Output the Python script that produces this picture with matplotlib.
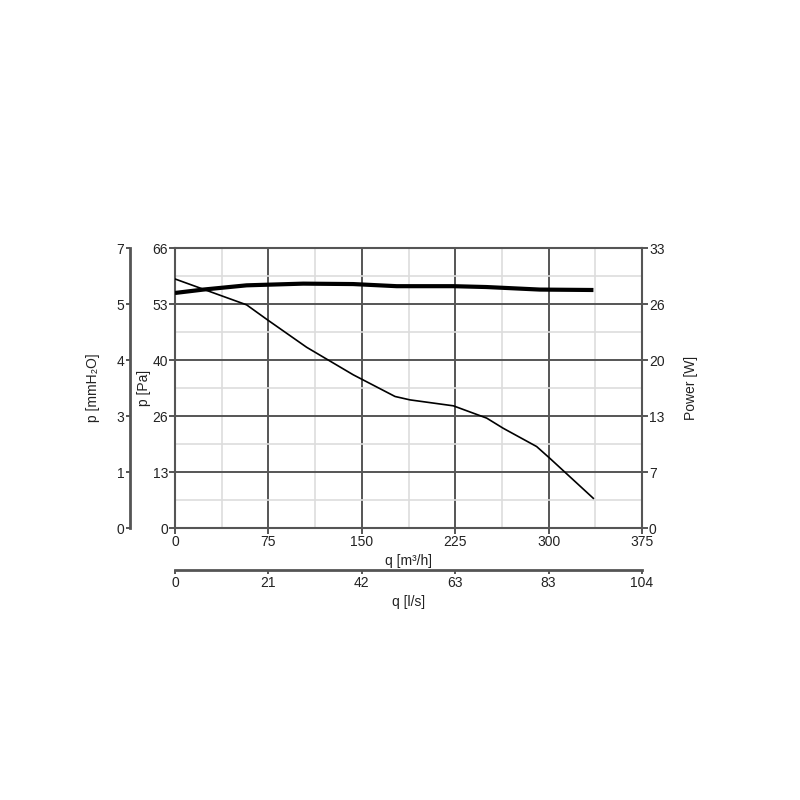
import matplotlib
matplotlib.use("Agg")
import matplotlib.pyplot as plt
import numpy as np

plt.rcParams['font.family'] = ['Liberation Sans', 'DejaVu Sans']

# pressure curve, q [m3/h] vs p [Pa]
q_p = [0, 57.5, 73.6, 105.7, 143.2, 176.7, 188.7, 223.5, 250.3, 263.6, 290.4, 301.1, 335.9]
p_pa = [58.7, 52.6, 49.2, 42.6, 36.1, 31.0, 30.2, 28.8, 25.9, 23.5, 19.2, 16.4, 7.0]

# power curve, q [m3/h] vs power [W]
q_w = [0, 22.7, 57.5, 103, 143, 178, 223.5, 250, 293, 336]
power_w = [27.7, 28.1, 28.6, 28.8, 28.75, 28.5, 28.5, 28.4, 28.1, 28.05]

q_max = 375
pa_max = 66
w_max = 33
pa_ticks = np.linspace(0, pa_max, 6)
q_ticks = np.linspace(0, q_max, 6)
w_ticks = np.linspace(0, w_max, 6)

def rnd(v):
    return f"{int(v + 0.5)}"

dark = '#555555'
txt = '#222222'
fs = 10

fig = plt.figure(figsize=(8, 8), dpi=100)
ax = fig.add_axes([0.21875, 0.34, 0.58375, 0.35])
ax.set_xlim(0, q_max)
ax.set_ylim(0, pa_max)

ax.set_xticks(q_ticks)
ax.set_xticklabels([rnd(v) for v in q_ticks])
ax.set_yticks(pa_ticks)
ax.set_yticklabels([rnd(v) for v in pa_ticks])
ax.set_xticks(q_ticks[:-1] + 37.5, minor=True)
ax.set_yticks(pa_ticks[:-1] + pa_max / 10, minor=True)

ax.grid(True, which='minor', color='#dddddd', lw=1.2)
ax.grid(True, which='major', color=dark, lw=1.4)
ax.set_axisbelow(True)
ax.tick_params(which='major', length=4, width=1.4, color=dark, labelsize=fs, labelcolor=txt, pad=1)
ax.tick_params(which='minor', length=0)
for s in ax.spines.values():
    s.set_color(dark)
    s.set_linewidth(1.5)

ax.plot(q_p, p_pa, color='black', lw=1.2, zorder=3)
ax.set_xlabel('q [m³/h]', fontsize=fs, color=txt, labelpad=4)
ax.set_ylabel('p [Pa]', fontsize=fs, color=txt, labelpad=1)

# power axis on the right
ax2 = ax.twinx()
ax2.set_ylim(0, w_max)
ax2.set_yticks(w_ticks)
ax2.set_yticklabels([rnd(v) for v in w_ticks])
ax2.tick_params(length=4, width=1.4, color=dark, labelsize=fs, labelcolor=txt, pad=1)
for s in ax2.spines.values():
    s.set_visible(False)
ax2.plot(q_w, power_w, color='black', lw=3, zorder=3, solid_capstyle='butt')
ax2.set_ylabel('Power [W]', fontsize=fs, color=txt, labelpad=14)

# mmH2O axis on the left
ax3 = ax.secondary_yaxis(-0.0964)
ax3.set_yticks(pa_ticks)
ax3.set_yticklabels([rnd(v / 9.81) for v in pa_ticks])
ax3.tick_params(length=3, width=1.4, color=dark, labelsize=fs, labelcolor=txt, pad=1)
ax3.spines['left'].set_color(dark)
ax3.spines['left'].set_linewidth(2)
ax3.set_ylabel('p [mmH₂O]', fontsize=fs, color=txt, labelpad=12)

# l/s axis at the bottom
ax4 = ax.secondary_xaxis(-0.15)
ax4.set_xticks(q_ticks)
ax4.set_xticklabels([rnd(v / 3.6) for v in q_ticks])
ax4.tick_params(length=3, width=1.4, color=dark, labelsize=fs, labelcolor=txt, pad=1)
ax4.spines['bottom'].set_color(dark)
ax4.spines['bottom'].set_linewidth(2)
ax4.set_xlabel('q [l/s]', fontsize=fs, color=txt, labelpad=4)

fig.savefig('out.png', dpi=100)
